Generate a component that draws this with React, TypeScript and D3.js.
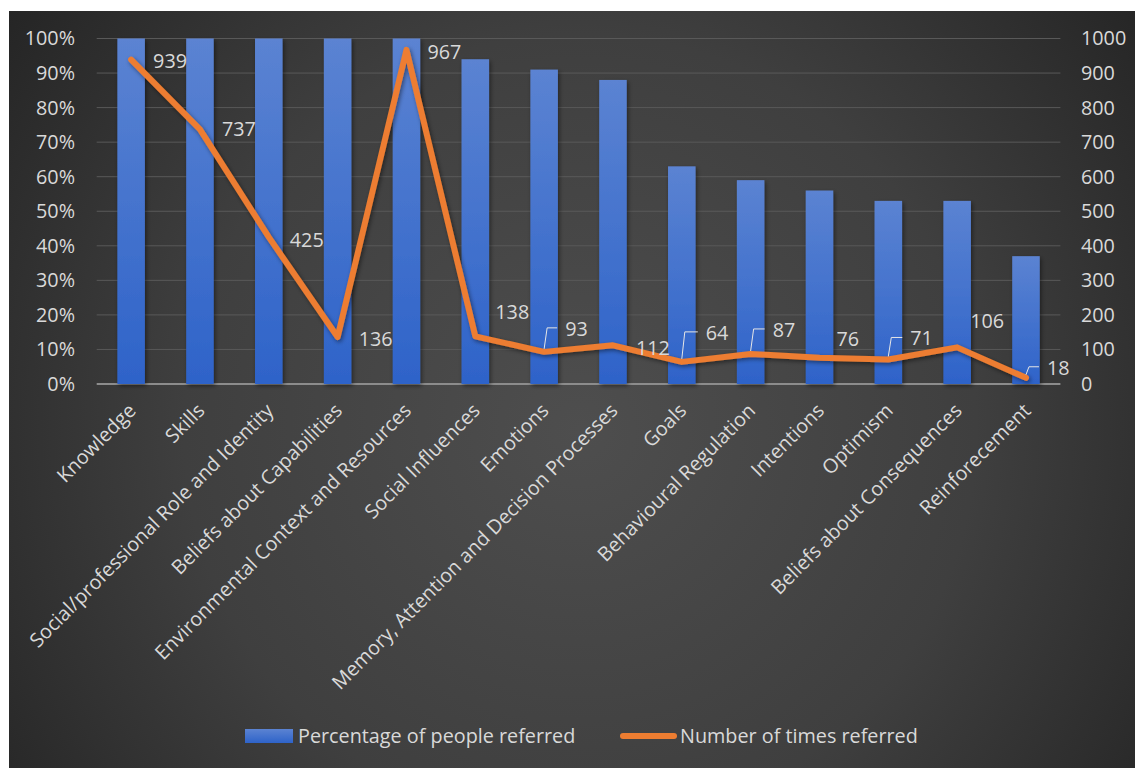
import * as d3 from 'd3';

const categories = [
  'Knowledge',
  'Skills',
  'Social/professional Role and Identity',
  'Beliefs about Capabilities',
  'Environmental Context and Resources',
  'Social Influences',
  'Emotions',
  'Memory, Attention and Decision Processes',
  'Goals',
  'Behavioural Regulation',
  'Intentions',
  'Optimism',
  'Beliefs about Consequences',
  'Reinforecement',
];
const percentPeople = [100, 100, 100, 100, 100, 94, 91, 88, 63, 59, 56, 53, 53, 37];
const timesReferred = [939, 737, 425, 136, 967, 138, 93, 112, 64, 87, 76, 71, 106, 18];
const leftTicks = [0, 10, 20, 30, 40, 50, 60, 70, 80, 90, 100];
const rightTicks = [0, 100, 200, 300, 400, 500, 600, 700, 800, 900, 1000];
const seriesNames = ['Percentage of people referred', 'Number of times referred'];

// label placement relative to the line point (layout only)
const labelShift: [number, number][] = [
  [22, 1], [22, 0], [21, 3], [21, 2], [21, 2], [20, -24], [21, -23],
  [23, 3], [24, -29], [22, -24], [17, -19], [22, -21], [13, -26], [21, -10],
];
const hasLeader = [false, false, false, false, false, false, true, false, true, true, false, true, false, true];

const W = 1135;
const H = 768;
const M = { left: 96.7, right: 1060.4, top: 38.5, bottom: 384 };
const FONT = '"Open Sans", Lato, sans-serif';
const TXT = '#d9d9d9';
const ORANGE = '#ED7D31';
const FS = 19.8;

export default function App() {
  const x = d3.scaleBand<string>().domain(categories).range([M.left, M.right]).paddingInner(0.6).paddingOuter(0.3);
  const yL = d3.scaleLinear().domain([0, 100]).range([M.bottom, M.top]);
  const yR = d3.scaleLinear().domain([0, 1000]).range([M.bottom, M.top]);
  const cx = (c: string) => (x(c) ?? 0) + x.bandwidth() / 2;

  const line = d3.line<number>()
    .x((_, i) => cx(categories[i]))
    .y((d) => yR(d));

  return (
    <div style={{ position: 'absolute', left: 0, top: 0 }}>
      <svg width={W} height={H} style={{ display: 'block', background: '#fff' }}>
        <defs>
          <radialGradient id="bg" gradientUnits="userSpaceOnUse" cx={580} cy={430} r={720}>
            <stop offset="0" stopColor="#4e4e4e" />
            <stop offset="0.55" stopColor="#3f3f3f" />
            <stop offset="1" stopColor="#242424" />
          </radialGradient>
          <linearGradient id="bar" x1="0" y1="0" x2="0" y2="1">
            <stop offset="0" stopColor="#5b83d2" />
            <stop offset="1" stopColor="#2e63c9" />
          </linearGradient>
          <filter id="shadow" x="-20%" y="-20%" width="140%" height="140%">
            <feDropShadow dx="1.5" dy="2" stdDeviation="2" floodColor="#000" floodOpacity="0.45" />
          </filter>
        </defs>
        <rect x={9} y={11} width={W - 9} height={H - 11} fill="url(#bg)" />

        {/* gridlines */}
        {leftTicks.map((t) => (
          <line key={t} x1={M.left} x2={M.right} y1={yL(t)} y2={yL(t)}
            stroke={t === 0 ? '#8c8c8c' : '#595959'} strokeWidth={t === 0 ? 2 : 1} />
        ))}

        {/* bars */}
        <g filter="url(#shadow)">
          {categories.map((c, i) => (
            <rect key={c} x={x(c)} y={yL(percentPeople[i])} width={x.bandwidth()}
              height={yL(0) - yL(percentPeople[i])} fill="url(#bar)" />
          ))}
        </g>

        {/* line */}
        <path d={line(timesReferred) ?? ''} fill="none" stroke={ORANGE} strokeWidth={6}
          strokeLinejoin="round" strokeLinecap="round" filter="url(#shadow)" />

        {/* data labels */}
        {timesReferred.map((v, i) => {
          const px = cx(categories[i]);
          const py = yR(v);
          const [dx, dy] = labelShift[i];
          return (
            <g key={i}>
              {hasLeader[i] && (
                <polyline
                  points={`${px},${py - 3} ${px + 3},${py + dy - 1} ${px + dx - 8},${py + dy - 1}`}
                  fill="none" stroke="#e6e6e6" strokeWidth={1} />
              )}
              <text x={px + dx} y={py + dy} dy="0.35em" fill={TXT} fontFamily={FONT} fontSize={FS}>
                {v}
              </text>
            </g>
          );
        })}

        {/* left axis */}
        {leftTicks.map((t) => (
          <text key={t} x={75} y={yL(t)} dy="0.35em" textAnchor="end" fill={TXT}
            fontFamily={FONT} fontSize={FS}>{t}%</text>
        ))}
        {/* right axis */}
        {rightTicks.map((t) => (
          <text key={t} x={1081} y={yR(t)} dy="0.35em" fill={TXT}
            fontFamily={FONT} fontSize={FS}>{t}</text>
        ))}

        {/* category labels */}
        {categories.map((c) => (
          <text key={c} transform={`translate(${cx(c) + 1},${407}) rotate(-45)`} textAnchor="end"
            dy="0.35em" fill={TXT} fontFamily={FONT} fontSize={FS}>{c}</text>
        ))}

        {/* legend */}
        <rect x={245} y={729} width={48} height={14} fill="url(#bar)" />
        <text x={298} y={736} dy="0.35em" fill={TXT} fontFamily={FONT} fontSize={FS}>{seriesNames[0]}</text>
        <line x1={623} x2={674} y1={736} y2={736} stroke={ORANGE} strokeWidth={6} strokeLinecap="round" />
        <text x={680} y={736} dy="0.35em" fill={TXT} fontFamily={FONT} fontSize={FS}>{seriesNames[1]}</text>
      </svg>
    </div>
  );
}
